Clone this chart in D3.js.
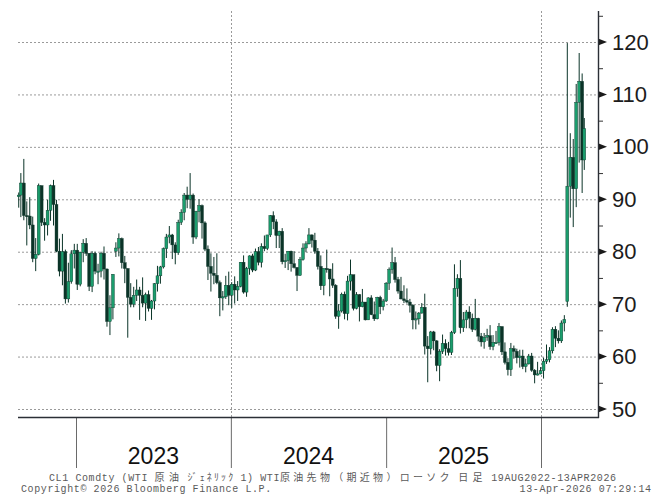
<!DOCTYPE html>
<html>
<head>
<meta charset="utf-8">
<script src="https://cdn.jsdelivr.net/npm/d3@7/dist/d3.min.js"></script>
<style>
  html, body { margin: 0; padding: 0; background: #fff; }
  svg { display: block; }
</style>
</head>
<body>
<div id="chart"></div>
<script>
// weekly candles (19AUG2022 - 13APR2026)
// one row per calendar year: 2022 / 2023 / 2024 / 2025 / 2026
const open = [
  90.5, 90.8, 93.1, 86.9, 86.8, 85.1, 78.7, 79.5, 92.6, 85.6, 85.1, 87.9, 92.6, 89.0, 80.1, 76.3, 80.0, 71.0, 74.3, 79.6,
  80.3, 73.8, 79.9, 81.6, 79.7, 73.4, 79.7, 76.3, 76.3, 79.7, 76.7, 66.7, 69.3, 80.1, 80.7, 82.5, 77.9, 76.8, 71.3, 70.0,
  71.7, 72.7, 71.7, 70.2, 71.8, 69.2, 70.6, 73.9, 75.4, 77.1, 80.6, 82.8, 83.2, 81.3, 79.8, 85.6, 87.5, 90.8, 90.0, 90.8,
  82.8, 87.7, 88.8, 85.5, 80.5, 77.2, 75.9, 75.5, 74.1, 71.2, 71.4, 73.6,
  71.7, 73.8, 72.7, 73.4, 78.0, 72.3, 76.8, 79.2, 76.5, 80.0, 78.0, 81.0, 80.6, 83.2, 86.9, 85.7, 83.1, 83.9, 78.1, 78.3,
  80.1, 77.7, 77.0, 75.5, 78.5, 80.7, 81.5, 83.2, 82.2, 80.1, 77.2, 73.5, 76.8, 76.7, 74.8, 73.6, 67.7, 68.7, 71.9, 68.2,
  74.4, 75.6, 69.2, 71.8, 69.5, 70.4, 67.0, 71.2, 68.0, 67.2, 71.3, 69.5,
  70.6, 74.0, 76.6, 77.9, 74.7, 72.5, 71.0, 70.7, 70.4, 69.8, 67.0, 67.2, 68.3, 69.4, 62.0, 61.5, 64.7, 63.0, 58.3, 61.0,
  62.5, 61.5, 60.8, 64.6, 73.0, 74.9, 65.5, 67.0, 68.5, 67.3, 65.2, 67.3, 63.9, 62.8, 63.7, 64.0, 61.9, 62.7, 62.7, 65.7,
  60.9, 58.9, 57.5, 61.5, 61.0, 59.8, 60.1, 58.1, 58.6, 60.1, 57.4, 56.5,
  56.7, 57.3, 59.1, 59.4, 61.1, 65.2, 63.5, 63.0, 66.4, 70.5, 92.5, 98.0, 92.0, 108.5, 112.5, 97.5
];
const high = [
  91.3, 95.0, 97.7, 89.6, 90.4, 86.7, 82.6, 93.0, 92.6, 86.4, 89.9, 92.8, 93.7, 89.9, 82.5, 83.4, 80.4, 77.9, 80.3, 81.5,
  81.5, 80.0, 82.4, 82.6, 79.7, 80.1, 80.0, 77.7, 80.0, 81.0, 76.8, 71.7, 75.7, 81.8, 83.5, 82.7, 79.2, 76.8, 74.0, 73.3,
  74.7, 73.3, 75.1, 72.2, 72.6, 70.8, 74.0, 77.3, 77.3, 80.8, 83.4, 84.9, 83.4, 81.8, 86.1, 88.1, 91.2, 92.4, 95.0, 91.1,
  87.8, 90.0, 89.0, 85.8, 81.2, 79.7, 79.0, 79.7, 74.5, 72.5, 75.4, 76.2,
  74.2, 75.3, 74.4, 78.0, 79.3, 77.1, 79.3, 79.6, 80.6, 80.9, 81.6, 83.1, 83.2, 87.0, 87.7, 86.2, 84.0, 84.5, 79.6, 80.1,
  80.2, 80.1, 77.0, 79.0, 81.6, 82.0, 84.5, 83.3, 83.6, 80.7, 79.3, 76.8, 80.4, 76.7, 77.8, 73.8, 70.0, 72.2, 72.4, 75.4,
  78.5, 75.6, 72.3, 71.9, 72.9, 70.4, 71.3, 71.7, 70.5, 71.4, 71.6, 71.0,
  74.2, 77.0, 80.8, 79.0, 75.2, 75.2, 73.6, 73.0, 71.0, 70.0, 68.6, 68.5, 70.2, 72.0, 63.9, 64.9, 64.9, 63.1, 61.4, 64.2,
  63.3, 62.8, 64.9, 77.6, 75.7, 78.4, 68.5, 68.9, 69.6, 68.2, 71.0, 67.4, 64.5, 64.5, 65.3, 66.0, 64.1, 64.9, 66.4, 65.8,
  62.7, 59.7, 62.6, 62.1, 61.5, 61.3, 61.3, 59.6, 60.5, 60.7, 57.6, 59.0,
  58.0, 59.8, 62.3, 61.8, 65.6, 65.8, 65.0, 66.9, 67.9, 119.8, 102.6, 101.5, 112.0, 117.9, 114.0, 105.5
];
const low = [
  88.4, 86.6, 86.0, 81.2, 84.3, 78.0, 76.3, 79.3, 84.9, 82.1, 83.1, 85.9, 85.0, 79.9, 75.3, 73.6, 70.1, 70.3, 73.9, 76.8,
  72.7, 73.4, 78.0, 79.2, 72.5, 72.3, 75.7, 73.8, 75.1, 74.7, 65.7, 64.1, 67.1, 79.0, 79.1, 76.8, 74.0, 63.6, 69.4, 69.4,
  70.6, 67.0, 69.4, 66.8, 68.6, 67.0, 69.0, 72.4, 73.9, 76.8, 78.8, 81.6, 78.6, 77.6, 79.4, 85.1, 86.0, 88.3, 88.2, 81.5,
  82.4, 85.6, 82.5, 80.1, 74.6, 72.4, 73.8, 73.8, 67.7, 68.8, 71.0, 69.8,
  69.3, 70.1, 70.6, 73.2, 72.0, 71.4, 75.6, 76.1, 76.3, 77.4, 77.0, 80.1, 80.3, 82.8, 84.3, 80.7, 80.7, 77.6, 76.9, 76.5,
  76.2, 76.8, 72.5, 75.4, 78.3, 79.9, 81.4, 80.8, 79.6, 76.6, 72.7, 71.7, 76.0, 71.5, 73.1, 67.2, 65.3, 68.4, 67.1, 66.9,
  72.6, 68.8, 69.0, 66.7, 69.4, 66.9, 67.0, 67.9, 66.8, 67.1, 68.1, 68.8,
  70.4, 72.7, 75.8, 74.1, 72.0, 70.9, 70.2, 70.1, 68.4, 65.2, 65.2, 66.1, 68.2, 60.4, 55.1, 60.4, 61.2, 57.2, 55.3, 60.5,
  60.2, 60.2, 60.3, 64.3, 71.4, 64.4, 64.7, 65.4, 65.4, 64.7, 65.0, 62.9, 61.9, 61.5, 63.0, 61.3, 61.2, 62.4, 62.1, 60.3,
  58.5, 56.4, 56.3, 59.6, 58.7, 57.9, 57.6, 57.0, 58.5, 57.1, 54.9, 56.4,
  56.6, 55.8, 58.6, 58.9, 60.6, 61.8, 62.5, 62.6, 64.8, 69.5, 86.5, 84.7, 88.5, 97.0, 91.2, 95.6
];
const close = [
  90.8, 93.1, 86.9, 86.8, 85.1, 78.7, 79.5, 92.6, 85.6, 85.1, 87.9, 92.6, 89.0, 80.1, 76.3, 80.0, 71.0, 74.3, 79.6, 80.3,
  73.8, 79.9, 81.6, 79.7, 73.4, 79.7, 76.3, 76.3, 79.7, 76.7, 66.7, 69.3, 75.7, 80.7, 82.5, 77.9, 76.8, 71.3, 70.0, 71.7,
  72.7, 71.7, 70.2, 71.8, 69.2, 70.6, 73.9, 75.4, 77.1, 80.6, 82.8, 83.2, 81.3, 79.8, 85.6, 87.5, 90.8, 90.0, 90.8, 82.8,
  87.7, 88.8, 85.5, 80.5, 77.2, 75.9, 75.5, 74.1, 71.2, 71.4, 73.6, 71.7,
  73.8, 72.7, 73.4, 78.0, 72.3, 76.8, 79.2, 76.5, 80.0, 78.0, 81.0, 80.6, 83.2, 86.9, 85.7, 83.1, 83.9, 78.1, 78.3, 80.1,
  77.7, 77.0, 75.5, 78.5, 80.7, 81.5, 83.2, 82.2, 80.1, 77.2, 73.5, 76.8, 76.7, 74.8, 73.6, 67.7, 68.7, 71.9, 68.2, 74.4,
  75.6, 69.2, 71.8, 69.5, 70.4, 67.0, 71.2, 68.0, 67.2, 71.3, 69.5, 70.6,
  74.0, 76.6, 77.9, 74.7, 72.5, 71.0, 70.7, 70.4, 69.8, 67.0, 67.2, 68.3, 69.4, 62.0, 61.5, 64.7, 63.0, 58.3, 61.0, 62.5,
  61.5, 60.8, 64.6, 73.0, 74.9, 65.5, 67.0, 68.5, 67.3, 65.2, 67.3, 63.9, 62.8, 63.7, 64.0, 61.9, 62.7, 62.7, 65.7, 60.9,
  58.9, 57.5, 61.5, 61.0, 59.8, 60.1, 58.1, 58.6, 60.1, 57.4, 56.5, 56.7,
  57.3, 59.1, 59.4, 61.1, 65.2, 63.5, 63.0, 66.4, 67.1, 92.5, 98.0, 92.0, 108.5, 112.5, 97.5, 103.5
];

const priceTicks = [50, 60, 70, 80, 90, 100, 110, 120];
const minorTicks = [55, 65, 75, 85, 95, 105, 115, 125];
const yearStarts = ["2023-01-01", "2024-01-01", "2025-01-01", "2026-01-01"];
const gridYears = ["2024-01-01", "2026-01-01"];
const yearLabels = ["2023", "2024", "2025"];

const titleText = "CL1 Comdty (WTI 原油 ｼﾞｪﾈﾘｯｸ 1) WTI原油先物（期近物）ローソク 日足 19AUG2022-13APR2026";
const copyrightText = "Copyright© 2026 Bloomberg Finance L.P.";
const stampText = "13-Apr-2026 07:29:14";

const frame = { left: 18, right: 598, top: 11, bottom: 417 };
const upColor = "#1b9d6d";
const downColor = "#0b3428";
const gridColor = "#9a9a9a";

const parseDate = d3.timeParse("%Y-%m-%d");

// week ends: Fridays from the first bar, plus the last (Monday) bar
const weekEnds = d3.timeFriday.range(new Date(2022, 7, 19), new Date(2026, 3, 11));
weekEnds.push(new Date(2026, 3, 13));
const candles = weekEnds.map((d, i) => ({
  date: i === 0 || i === weekEnds.length - 1 ? d : d3.timeDay.offset(d, -2),
  o: open[i], h: high[i], l: low[i], c: close[i],
}));

const xScale = d3
  .scaleTime()
  .domain([new Date(2023, 0, 1), new Date(2026, 0, 1)])
  .range([76, 541]);

const yScale = d3.scaleLinear().domain([50, 120]).range([409, 42]);

const svg = d3
  .select("#chart")
  .append("svg")
  .attr("width", 664)
  .attr("height", 502)
  .attr("viewBox", "0 0 664 502");

// grid
svg
  .append("g")
  .selectAll("line")
  .data(priceTicks)
  .enter()
  .append("line")
  .attr("x1", frame.left)
  .attr("x2", frame.right)
  .attr("y1", (d) => yScale(d) + 0.5)
  .attr("y2", (d) => yScale(d) + 0.5)
  .attr("stroke", gridColor)
  .attr("stroke-dasharray", "2,2");

svg
  .append("g")
  .selectAll("line")
  .data(gridYears)
  .enter()
  .append("line")
  .attr("x1", (d) => Math.round(xScale(parseDate(d))) + 0.5)
  .attr("x2", (d) => Math.round(xScale(parseDate(d))) + 0.5)
  .attr("y1", frame.top)
  .attr("y2", frame.bottom)
  .attr("stroke", gridColor)
  .attr("stroke-dasharray", "2,2");

// candles
const bars = svg
  .append("g")
  .attr("id", "candles")
  .selectAll("g")
  .data(candles)
  .enter()
  .append("g");

bars
  .append("line")
  .attr("x1", (d) => xScale(d.date))
  .attr("x2", (d) => xScale(d.date))
  .attr("y1", (d) => yScale(d.h))
  .attr("y2", (d) => yScale(d.l))
  .attr("stroke", downColor)
  .attr("stroke-width", 1);

bars
  .append("rect")
  .attr("x", (d) => xScale(d.date) - 1.45)
  .attr("width", 2.9)
  .attr("y", (d) => yScale(Math.max(d.o, d.c)))
  .attr("height", (d) => Math.max(1.2, Math.abs(yScale(d.o) - yScale(d.c))))
  .attr("fill", (d) => (d.c >= d.o ? upColor : downColor))
  .attr("stroke", downColor)
  .attr("stroke-width", 0.4);

// right price axis
const yAxis = svg
  .append("g")
  .attr("transform", "translate(" + frame.right + ",0)")
  .call(d3.axisRight(yScale).tickValues(priceTicks).tickSize(0).tickPadding(14));
yAxis.select(".domain").remove();
yAxis
  .selectAll(".tick text")
  .attr("font-family", "Liberation Sans, Arial, sans-serif")
  .attr("font-size", 22)
  .attr("fill", "#1c1c1c");

yAxis
  .selectAll(".arrow")
  .data(priceTicks)
  .enter()
  .append("path")
  .attr("d", (d) => {
    const y = yScale(d);
    return "M0," + (y - 3.5) + "L9," + y + "L0," + (y + 3.5) + "Z";
  })
  .attr("fill", "#1a1a1a");

yAxis
  .selectAll(".minor")
  .data(minorTicks)
  .enter()
  .append("line")
  .attr("x1", 0)
  .attr("x2", 5)
  .attr("y1", (d) => yScale(d) + 0.5)
  .attr("y2", (d) => yScale(d) + 0.5)
  .attr("stroke", "#333");

svg
  .append("line")
  .attr("x1", frame.right + 0.5)
  .attr("x2", frame.right + 0.5)
  .attr("y1", frame.top)
  .attr("y2", frame.bottom + 1)
  .attr("stroke", "#2b2f36")
  .attr("stroke-width", 1.4);

// bottom time axis
const xAxis = svg
  .append("g")
  .attr("transform", "translate(0," + frame.bottom + ")")
  .call(
    d3.axisBottom(xScale)
      .tickValues(yearStarts.map(parseDate))
      .tickSize(51)
      .tickFormat("")
  );
xAxis.select(".domain").remove();
xAxis.selectAll(".tick line").attr("stroke", "#6a6a6a");

svg
  .append("line")
  .attr("x1", frame.left)
  .attr("x2", frame.right + 1)
  .attr("y1", frame.bottom + 0.5)
  .attr("y2", frame.bottom + 0.5)
  .attr("stroke", "#2b2f36")
  .attr("stroke-width", 1.6);

svg
  .append("g")
  .selectAll("text")
  .data(yearLabels)
  .enter()
  .append("text")
  .attr("x", (d) => (xScale(new Date(+d, 0, 1)) + xScale(new Date(+d + 1, 0, 1))) / 2)
  .attr("y", 464)
  .attr("text-anchor", "middle")
  .attr("font-family", "Liberation Sans, Arial, sans-serif")
  .attr("font-size", 23)
  .attr("fill", "#111")
  .text((d) => d);

// footer on a fixed-pitch grid: full width chars take two cells
const cell = 6.6;
const monoFont = "Liberation Mono, Noto Sans CJK JP, monospace";

function cellWidth(ch) {
  const code = ch.charCodeAt(0);
  if (code >= 0xff61 && code <= 0xff9f) return 1;
  return code > 0x2e80 ? 2 : 1;
}

// split the title into words, and words into runs of one cell width
const titleRuns = [];
let pos = 49;
let run = null;
Array.from(titleText).forEach((ch) => {
  const w = cellWidth(ch);
  if (ch === " ") {
    run = null;
  } else if (run && run.w === w) {
    run.text += ch;
  } else {
    run = { x: pos, w: w, text: ch };
    titleRuns.push(run);
  }
  pos += w * cell;
});

svg
  .append("g")
  .selectAll("text")
  .data(titleRuns)
  .enter()
  .append("text")
  .attr("x", (d) => d.x)
  .attr("y", 481)
  .attr("font-family", monoFont)
  .attr("font-size", 10)
  .attr("fill", "#5a5a5a")
  .attr("textLength", (d) => Array.from(d.text).length * d.w * cell - (d.w === 2 ? 2 : 0.6))
  .attr("lengthAdjust", "spacing")
  .text((d) => d.text);

svg
  .append("text")
  .attr("x", 21)
  .attr("y", 492)
  .attr("font-family", monoFont)
  .attr("font-size", 10)
  .attr("fill", "#5a5a5a")
  .attr("textLength", copyrightText.length * cell - 0.6)
  .attr("lengthAdjust", "spacing")
  .text(copyrightText);

svg
  .append("text")
  .attr("x", 651)
  .attr("y", 492)
  .attr("text-anchor", "end")
  .attr("font-family", monoFont)
  .attr("font-size", 10)
  .attr("fill", "#5a5a5a")
  .attr("textLength", stampText.length * cell - 0.6)
  .attr("lengthAdjust", "spacing")
  .text(stampText);
</script>
</body>
</html>
